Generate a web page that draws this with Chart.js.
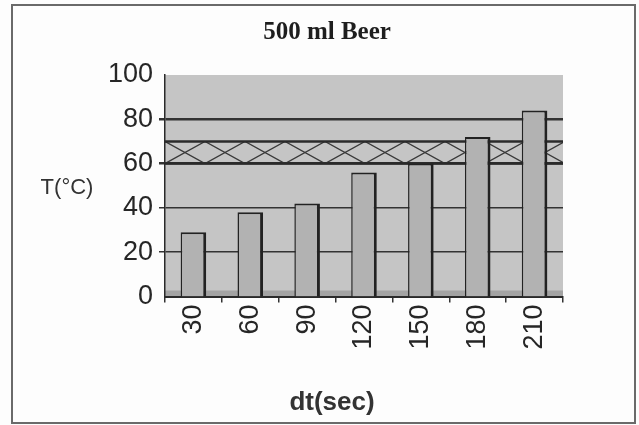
<!DOCTYPE html>
<html>
<head>
<meta charset="utf-8">
<script src="https://cdn.jsdelivr.net/npm/chart.js@4.4.1/dist/chart.umd.min.js"></script>
<style>
  html, body { margin: 0; padding: 0; background: #fdfdfd; }
  #wrap { width: 639px; height: 425px; }
</style>
</head>
<body>
<div id="wrap"><canvas id="c" width="639" height="425"></canvas></div>
<script>
const chartTitle = '500 ml Beer';
const yAxisTitle = 'T(°C)';
const xAxisTitle = 'dt(sec)';
const categories = ['30', '60', '90', '120', '150', '180', '210'];
const temps = [29, 38, 42, 56, 60, 72, 84];
const yTicks = [0, 20, 40, 60, 80, 100];
const bandRange = [60, 70];

const decor = {
  id: 'decor',
  beforeDraw(chart) {
    const { ctx, chartArea: a } = chart;
    ctx.save();
    ctx.fillStyle = '#fdfdfd';
    ctx.fillRect(0, 0, chart.width, chart.height);
    // outer frame
    ctx.strokeStyle = '#6a6a6a';
    ctx.lineWidth = 2;
    ctx.strokeRect(12, 5, 623, 418);
    // plot background
    ctx.fillStyle = '#c5c5c5';
    ctx.fillRect(a.left, a.top, a.right - a.left, a.bottom - a.top);
    // 3D floor strip
    const y = chart.scales.y;
    ctx.fillStyle = '#a3a3a3';
    ctx.fillRect(a.left, y.getPixelForValue(0) - 6, a.right - a.left, 6);
    ctx.restore();
  },
  beforeDatasetsDraw(chart) {
    const { ctx, chartArea: a } = chart;
    const y = chart.scales.y;
    const yTop = y.getPixelForValue(bandRange[1]);
    const yBot = y.getPixelForValue(bandRange[0]);
    ctx.save();
    ctx.beginPath();
    ctx.rect(a.left, yTop, a.right - a.left, yBot - yTop);
    ctx.clip();
    ctx.strokeStyle = '#3a3a3a';
    ctx.lineWidth = 1.3;
    const P = 80;
    for (let x0 = a.left - P; x0 < a.right + P; x0 += P) {
      ctx.beginPath();
      ctx.moveTo(x0, yTop); ctx.lineTo(x0 + P / 2, yBot); ctx.lineTo(x0 + P, yTop);
      ctx.stroke();
      ctx.beginPath();
      ctx.moveTo(x0, yBot); ctx.lineTo(x0 + P / 2, yTop); ctx.lineTo(x0 + P, yBot);
      ctx.stroke();
    }
    ctx.restore();
    ctx.save();
    ctx.strokeStyle = '#2a2a2a';
    ctx.lineWidth = 2.5;
    [yTop, yBot].forEach(py => {
      ctx.beginPath(); ctx.moveTo(a.left, py); ctx.lineTo(a.right, py); ctx.stroke();
    });
    ctx.restore();
  },
  afterDraw(chart) {
    const { ctx } = chart;
    ctx.save();
    ctx.fillStyle = '#1e1e1e';
    ctx.textAlign = 'center';
    ctx.textBaseline = 'middle';
    ctx.font = 'bold 25px "Liberation Serif"';
    ctx.fillText(chartTitle, 327, 33);
    ctx.font = '22px "Liberation Sans"';
    ctx.fillStyle = '#333';
    ctx.fillText(yAxisTitle, 67, 188);
    ctx.font = 'bold 26px "Liberation Sans"';
    ctx.fillText(xAxisTitle, 332, 403);
    ctx.restore();
  }
};

new Chart(document.getElementById('c'), {
  type: 'bar',
  data: {
    labels: categories,
    datasets: [{
      data: temps,
      backgroundColor: '#b2b2b2',
      borderColor: '#222',
      borderWidth: { top: 2, left: 1.5, right: 3, bottom: 0 },
      borderSkipped: false,
      categoryPercentage: 1,
      barPercentage: 0.45
    }]
  },
  options: {
    responsive: false,
    animation: false,
    devicePixelRatio: 1,
    layout: { padding: { left: 0, right: 76, top: 75, bottom: 68.5 } },
    plugins: { legend: { display: false }, title: { display: false }, tooltip: { enabled: false } },
    scales: {
      x: {
        grid: { display: true, drawOnChartArea: false, offset: true, tickLength: 6, color: '#333', lineWidth: 1.5 },
        border: { color: '#2a2a2a', width: 2 },
        ticks: { minRotation: 90, maxRotation: 90, color: '#262626', padding: 2,
                 font: { family: 'Liberation Sans', size: 27 } },
        afterFit: s => { s.height = 60; }
      },
      y: {
        min: 0, max: 100,
        afterBuildTicks: s => { s.ticks = yTicks.map(v => ({ value: v })); },
        grid: {
          color: '#333', tickLength: 6,
          lineWidth: c => (c.tick && (c.tick.value === 100 || c.tick.value === 0)) ? 0 : (c.tick && c.tick.value >= 60 ? 2.5 : 1.5)
        },
        border: { color: '#2a2a2a', width: 1.5 },
        ticks: { color: '#262626', padding: 6, font: { family: 'Liberation Sans', size: 27 } },
        afterFit: s => { s.width = 165; }
      }
    }
  },
  plugins: [decor]
});
</script>
</body>
</html>
